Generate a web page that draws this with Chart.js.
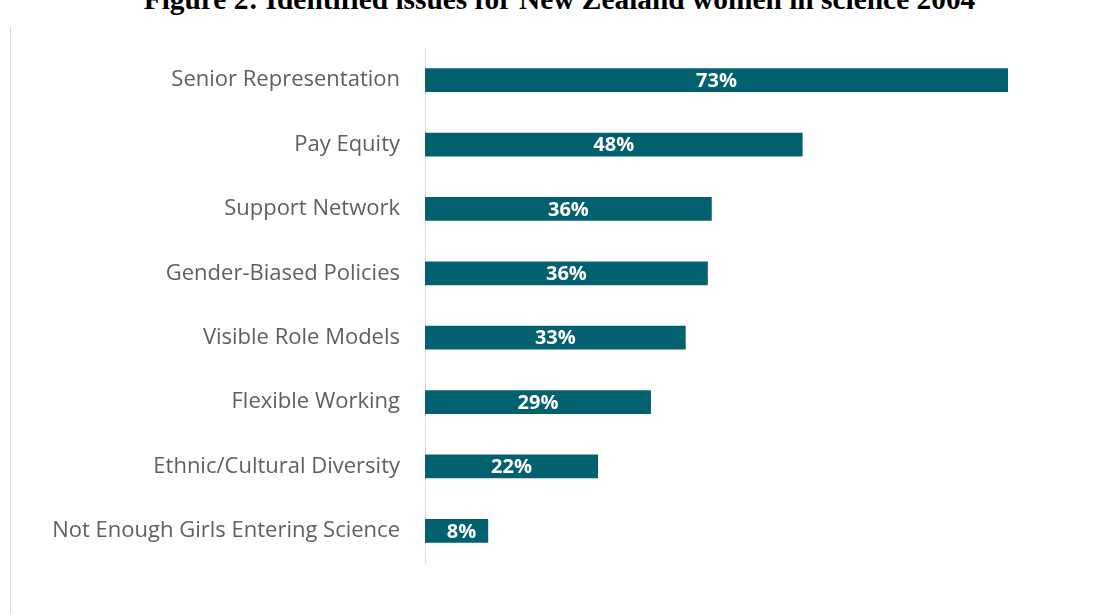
<!DOCTYPE html>
<html>
<head>
<meta charset="utf-8">
<script src="https://cdn.jsdelivr.net/npm/chart.js@4/dist/chart.umd.min.js"></script>
<style>
  html, body { margin: 0; padding: 0; background: #fff; }
  #wrap { position: relative; width: 1095px; height: 614px; overflow: hidden; }
  #title {
    position: absolute; left: 0; width: 1119px; top: -17px;
    text-align: center; font: bold 29.4px "Liberation Serif", "Times New Roman", serif;
    color: #000; white-space: nowrap;
  }
  #frame { position: absolute; left: 10px; top: 27px; bottom: 0; border-left: 1px solid #d9d9d9; }
  #box { position: absolute; left: 0; top: 0; width: 1095px; height: 614px; }
</style>
</head>
<body>
<div id="wrap">
  <div id="title">Figure 2: Identified issues for New Zealand women in science 2004</div>
  <div id="frame"></div>
  <div id="box"><canvas id="myChart"></canvas></div>
</div>
<script>
// chart data
const issues = [
  'Senior Representation',
  'Pay Equity',
  'Support Network',
  'Gender-Biased Policies',
  'Visible Role Models',
  'Flexible Working',
  'Ethnic/Cultural Diversity',
  'Not Enough Girls Entering Science'
]
const shares = [73.8, 47.8, 36.3, 35.8, 33.0, 28.6, 21.9, 8.0]
const shareLabels = ['73%', '48%', '36%', '36%', '33%', '29%', '22%', '8%']

// white labels in the middle of each bar
const barLabels = {
  id: 'barLabels',
  afterDatasetsDraw(chart) {
    const ctx = chart.ctx
    const meta = chart.getDatasetMeta(0)
    ctx.save()
    ctx.fillStyle = '#ffffff'
    ctx.font = 'bold 20px "Open Sans", sans-serif'
    ctx.textAlign = 'center'
    ctx.textBaseline = 'middle'
    meta.data.forEach((bar, i) => {
      const x = (bar.x + bar.base) / 2
      ctx.fillText(shareLabels[i], x + (i === 7 ? 5 : 0), bar.y + 1)
    })
    ctx.restore()
  }
}

new Chart(document.getElementById('myChart'), {
  type: 'bar',
  data: {
    labels: issues,
    datasets: [{
      data: shares,
      backgroundColor: '#03616f',
      borderWidth: 0,
      barPercentage: 0.37,
      categoryPercentage: 1
    }]
  },
  plugins: [barLabels],
  options: {
    indexAxis: 'y',
    responsive: true,
    maintainAspectRatio: false,
    animation: false,
    layout: { padding: { left: 0, right: 38, top: 48, bottom: 51 } },
    scales: {
      x: { display: false, min: 0, max: 80 },
      y: {
        grid: { display: false, drawTicks: false },
        border: { display: true, color: '#d9d9d9', width: 1 },
        ticks: {
          color: '#5f5f5f',
          padding: 25,
          font: { family: '"Open Sans", sans-serif', size: 22 }
        },
        afterFit(scale) { scale.width = 425 }
      }
    },
    plugins: {
      legend: { display: false },
      tooltip: { enabled: false }
    }
  }
})
</script>
</body>
</html>
